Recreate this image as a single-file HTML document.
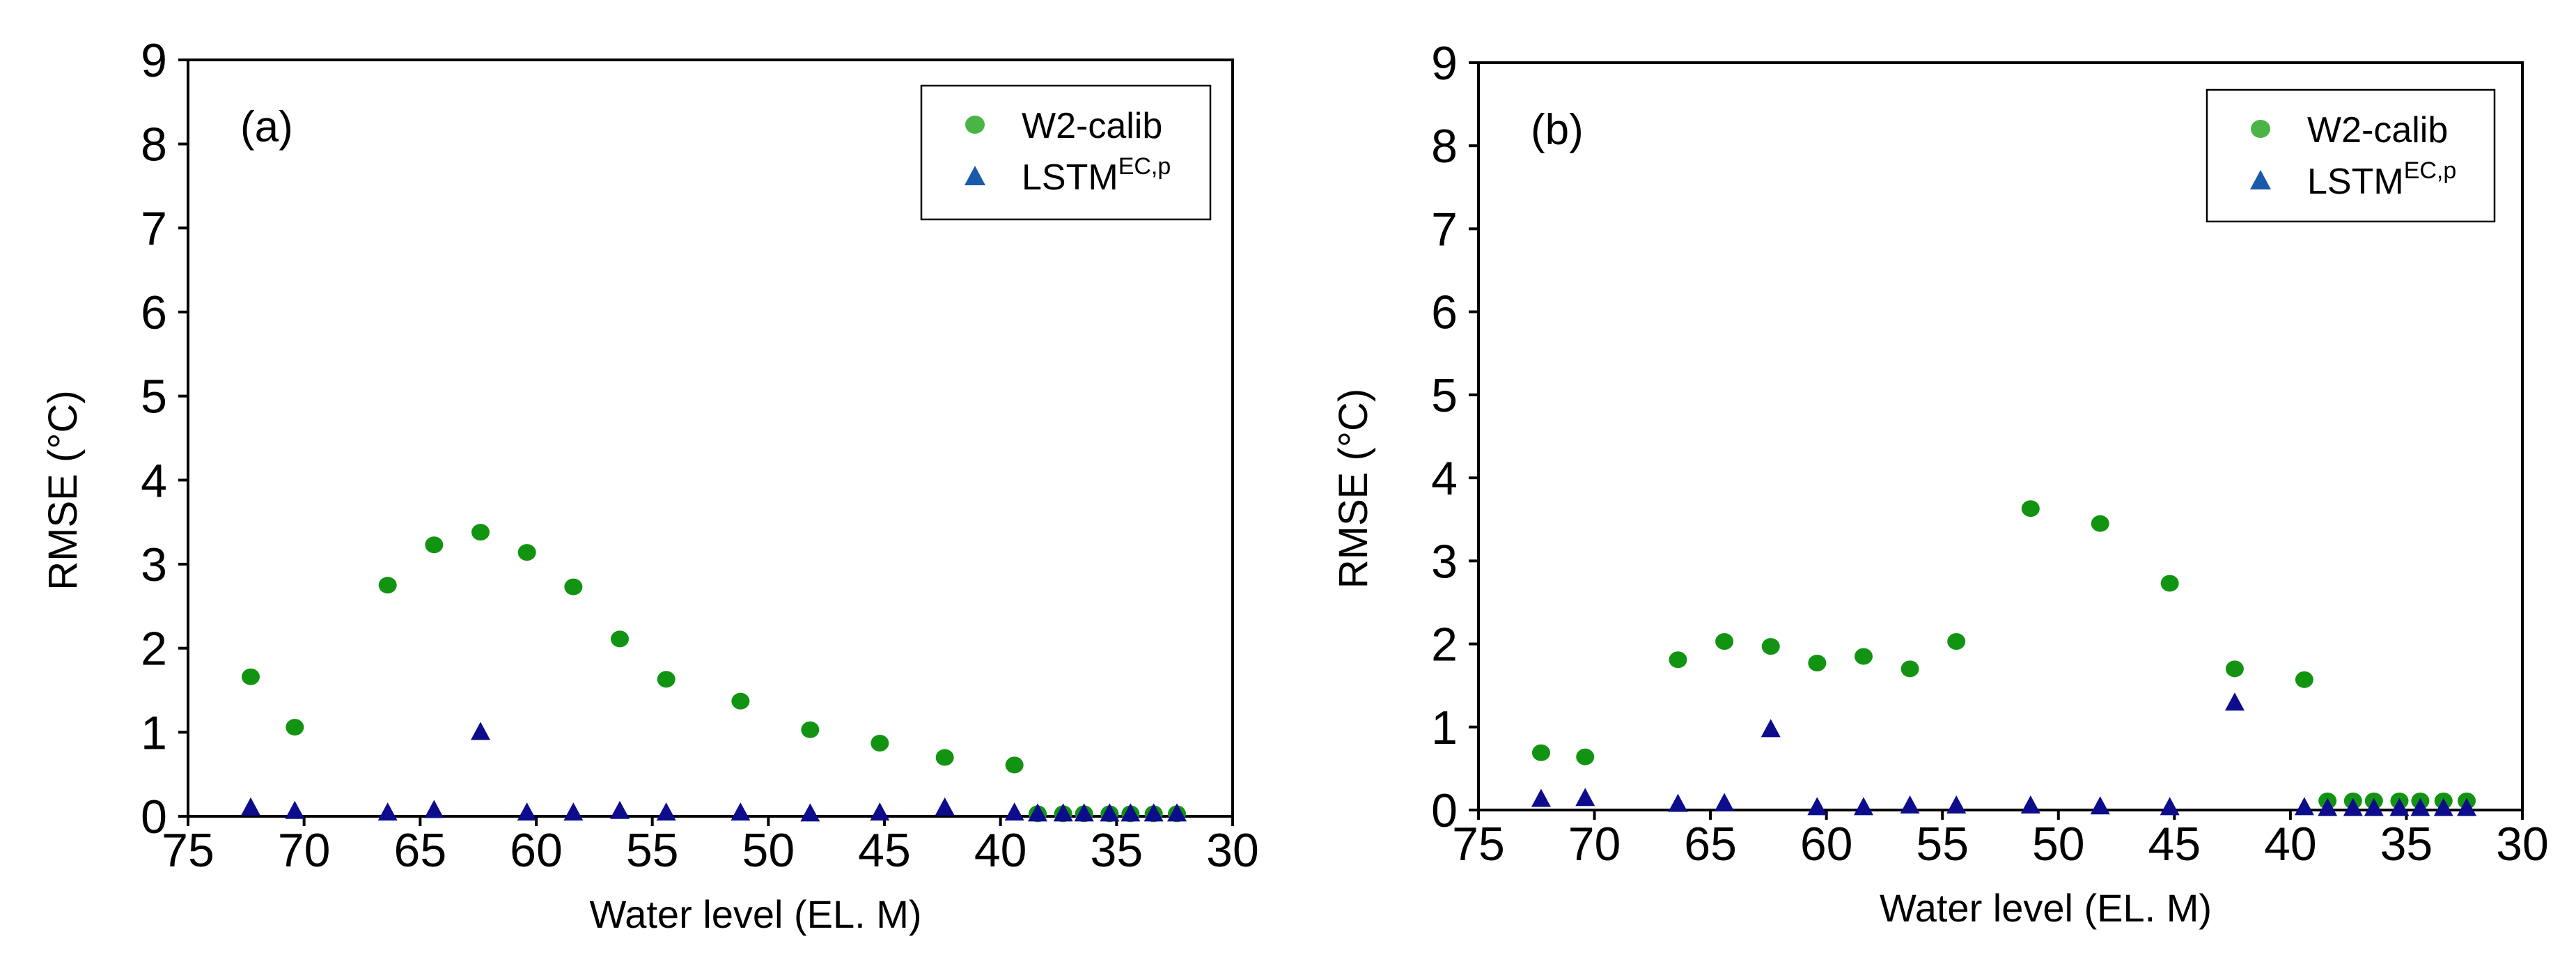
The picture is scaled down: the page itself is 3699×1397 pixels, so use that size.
<!DOCTYPE html>
<html><head><meta charset="utf-8"><style>
html,body{margin:0;padding:0;background:#fff;}
svg{display:block;font-family:"Liberation Sans",Arial,sans-serif;}
</style></head><body>
<svg id="chart" width="3699" height="1397" viewBox="0 0 3699 1397" xmlns="http://www.w3.org/2000/svg"></svg>
<script>
const xLevels = [72.3,70.4,66.4,64.4,62.4,60.4,58.4,56.4,54.4,51.2,48.2,45.2,42.4,39.4,38.4,37.3,36.4,35.3,34.4,33.4,32.4];
const w2A = [1.66,1.06,2.75,3.23,3.38,3.14,2.73,2.11,1.63,1.37,1.03,0.87,0.70,0.61,0.03,0.03,0.03,0.03,0.03,0.03,0.03];
const lstmA = [0.10,0.06,0.04,0.07,1.00,0.04,0.04,0.06,0.04,0.04,0.03,0.04,0.10,0.04,0.03,0.03,0.03,0.03,0.03,0.03,0.03];
const w2B = [0.69,0.64,1.81,2.03,1.97,1.77,1.85,1.70,2.03,3.63,3.45,2.73,1.70,1.57,0.11,0.11,0.11,0.11,0.11,0.11,0.11];
const lstmB = [0.13,0.14,0.07,0.08,0.97,0.03,0.03,0.05,0.05,0.05,0.04,0.03,1.29,0.03,0.02,0.02,0.02,0.02,0.02,0.02,0.02];
const xTicks = [75,70,65,60,55,50,45,40,35,30];
const yTicks = [0,1,2,3,4,5,6,7,8,9];

const NS = "http://www.w3.org/2000/svg";
const svg = document.getElementById('chart');
function mk(tag, attrs, parent, text){
  const e = document.createElementNS(NS, tag);
  for (const k in attrs) e.setAttribute(k, attrs[k]);
  if (text !== undefined) e.textContent = text;
  (parent||svg).appendChild(e);
  return e;
}

function panel(id, L, R, T, B, label, w2, lstm, leg){
  const g = mk('g', {});
  
  
  const sx = v => L + (75 - v) / 45 * (R - L);
  const sy = v => B - v / 9 * (B - T);
  const frame = mk('rect', {x:L, y:T, width:R-L, height:B-T, fill:'none', stroke:'#000', 'stroke-width':4}, g);
  
  
  yTicks.forEach(t => {
    const y = sy(t);
    const tk = mk('line', {x1:L-14, x2:L, y1:y, y2:y, stroke:'#000', 'stroke-width':4}, g);
    
    
    const tl = mk('text', {x:L-30, y:y+24, 'font-size':68, 'text-anchor':'end'}, g, String(t));
    
    
  });
  xTicks.forEach(t => {
    const x = sx(t);
    const tk = mk('line', {x1:x, x2:x, y1:B, y2:B+14, stroke:'#000', 'stroke-width':4}, g);
    
    
    const tl = mk('text', {x:x, y:B+72, 'font-size':68, 'text-anchor':'middle'}, g, String(t));
    
    
  });
  const xt = mk('text', {x:(L+R)/2+65, y:B+160, 'font-size':56, 'text-anchor':'middle'}, g, 'Water level (EL. M)');
  
  
  const yx = L - 160, yy = (T+B)/2 + 75;
  const yt = mk('text', {x:yx, y:yy, 'font-size':58, 'text-anchor':'middle', transform:`rotate(-90 ${yx} ${yy})`}, g, 'RMSE (°C)');
  
  
  const pl = mk('text', {x:L+75, y:T+117, 'font-size':62}, g, label);
  
  
  xLevels.forEach((xv, i) => {
    const c = mk('ellipse', {cx:sx(xv), cy:sy(w2[i]), rx:13, ry:12, fill:'#129412'}, g);
    
    
  });
  xLevels.forEach((xv, i) => {
    const x = sx(xv), y = sy(lstm[i]);
    const p = mk('polygon', {points:`${x},${y-15} ${x-14},${y+11} ${x+14},${y+11}`, fill:'#0c0c8c'}, g);
    
    
  });
  const lg = mk('g', {}, g);
  
  
  mk('rect', {x:leg[0], y:leg[1], width:leg[2], height:leg[3], fill:'#fff', stroke:'#000', 'stroke-width':2.5}, lg);
  const e1 = mk('g', {}, lg);
  
  
  mk('ellipse', {cx:leg[0]+77, cy:leg[1]+56, rx:14, ry:13, fill:'#4ab546'}, e1);
  mk('text', {x:leg[0]+144, y:leg[1]+75, 'font-size':52}, e1, 'W2-calib');
  const e2 = mk('g', {}, lg);
  
  
  const lx = leg[0]+77, ly = leg[1]+130;
  mk('polygon', {points:`${lx},${ly-15} ${lx-15},${ly+13} ${lx+15},${ly+13}`, fill:'#1a5aa8'}, e2);
  const t2 = mk('text', {x:leg[0]+144, y:leg[1]+149, 'font-size':52}, e2, 'LSTM');
  mk('tspan', {dy:-22, 'font-size':34}, t2, 'EC,p');
}

panel('a', 270, 1770, 86, 1172, '(a)', w2A, lstmA, [1323,123,415,192]);
panel('b', 2123, 3622, 90, 1163, '(b)', w2B, lstmB, [3169,129,413,189]);
</script>
</body></html>
